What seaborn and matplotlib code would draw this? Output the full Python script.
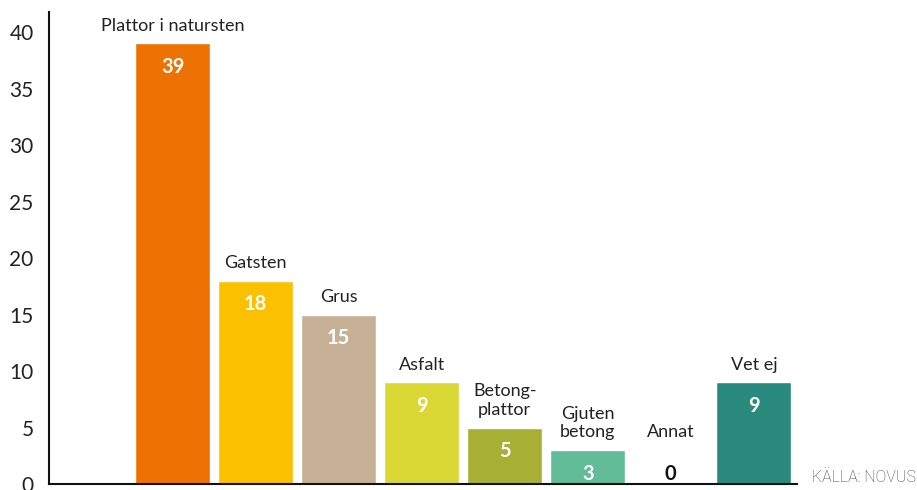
import matplotlib
matplotlib.use('Agg')
import matplotlib.pyplot as plt
import seaborn as sns
import pandas as pd

categories = ['Plattor i natursten', 'Gatsten', 'Grus', 'Asfalt',
              'Betong-\nplattor', 'Gjuten\nbetong', 'Annat', 'Vet ej']
values = [39, 18, 15, 9, 5, 3, 0, 9]
colors = ['#EE7203', '#FBC000', '#C6B197', '#DAD834',
          '#A8AF35', '#63BC98', '#FFFFFF', '#2A8A7D']
yticks = [0, 5, 10, 15, 20, 25, 30, 35, 40]
source = 'KÄLLA: NOVUS'

sns.set_style('white')
plt.rcParams['font.family'] = ['Lato', 'DejaVu Sans']

df = pd.DataFrame({'kategori': categories, 'andel': values})

fig = plt.figure(figsize=(9.17, 4.90), dpi=100)
ax = fig.add_axes([49 / 917, 6 / 490, 748 / 917, 472 / 490])
sns.barplot(data=df, x='kategori', y='andel', hue='kategori',
            palette=colors, legend=False, width=0.9, saturation=1,
            ax=ax)

ax.set_xlim(-1.49, 7.52)
ax.set_ylim(0, 41.77)
ax.set_yticks(yticks)
ax.set_xticks([])
ax.set_xlabel('')
ax.set_ylabel('')
ax.tick_params(axis='y', direction='in', length=18, width=1.2,
               color='#222222', labelsize=15, labelcolor='#222222', pad=11)
for side in ['top', 'right']:
    ax.spines[side].set_visible(False)
for side in ['left', 'bottom']:
    ax.spines[side].set_color('#111111')
    ax.spines[side].set_linewidth(1.5)

# labels for tiny bars sit as if the bar were 3 high
for i, (cat, v) in enumerate(zip(categories, values)):
    top = max(v, 3)
    ax.annotate(cat, (i, top), xytext=(0, 7), textcoords='offset points',
                ha='center', va='bottom', fontsize=13, color='#222222',
                linespacing=1.2)
    ax.annotate(str(v), (i, top), xytext=(0, -17),
                textcoords='offset points', ha='center', va='center',
                fontsize=14.5, fontweight='bold',
                color='white' if v > 0 else '#111111')

fig.text(812 / 917, 13 / 490, source, ha='left', va='center',
         fontsize=11.5, color='#444444', family=['Roboto', 'DejaVu Sans'],
         fontweight='light')

fig.savefig('out.png', dpi=100)
